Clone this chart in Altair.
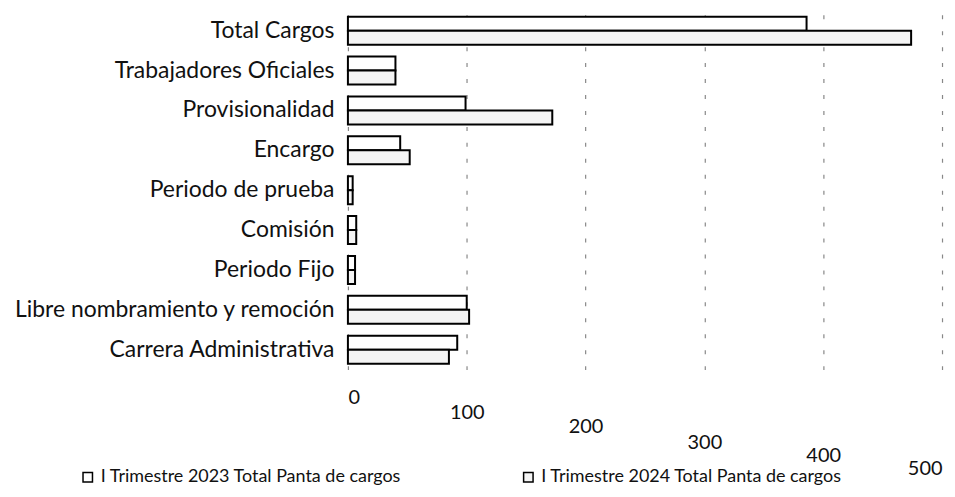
import altair as alt
import pandas as pd

categories = ["Total Cargos", "Trabajadores Oficiales", "Provisionalidad", "Encargo",
              "Periodo de prueba", "Comisión", "Periodo Fijo",
              "Libre nombramiento y remoción", "Carrera Administrativa"]
series = ["I Trimestre 2023 Total Panta de cargos", "I Trimestre 2024 Total Panta de cargos"]
values_2023 = [386, 40, 99, 44, 4, 7, 6, 100, 92]
values_2024 = [474, 40, 172, 52, 4, 7, 6, 102, 85]
x_ticks = [0, 100, 200, 300, 400, 500]
label_drop = [0, 15, 29, 45, 58, 71]

rows = []
for c, a, b in zip(categories, values_2023, values_2024):
    rows.append({"cat": c, "serie": series[0], "val": a})
    rows.append({"cat": c, "serie": series[1], "val": b})
df = pd.DataFrame(rows)

FONT = "Lato"

pad_cond = {
    "condition": [{"test": f"datum.value == {v}", "value": 18 + d} for v, d in zip(x_ticks, label_drop)],
    "value": 18,
}

chart = alt.Chart(df).mark_bar(stroke="black", strokeWidth=2).encode(
    y=alt.Y("cat:N", sort=categories, title=None,
            scale=alt.Scale(paddingInner=0.3, paddingOuter=0.15),
            axis=alt.Axis(domain=False, ticks=False, labelFontSize=23, labelFont=FONT,
                          labelColor="#111", labelPadding=14, labelLimit=400)),
    yOffset=alt.YOffset("serie:N", sort=series),
    x=alt.X("val:Q", title=None,
            scale=alt.Scale(domain=[0, 500], nice=False),
            axis=alt.Axis(values=x_ticks, domain=False, ticks=False, labelFontSize=20,
                          labelFont=FONT, labelColor="#111", labelPadding=pad_cond,
                          grid=True, gridDash=[4, 12], gridColor="#888", gridWidth=1.2)),
    color=alt.Color("serie:N", sort=series, title=None,
                    scale=alt.Scale(domain=series, range=["white", "#f4f4f4"]),
                    legend=alt.Legend(orient="none", legendX=-270, legendY=459,
                                      direction="horizontal",
                                      labelFont=FONT, labelFontSize=18, labelColor="#111",
                                      symbolType="square", symbolStrokeColor="black",
                                      symbolStrokeWidth=1.5, symbolSize=90,
                                      columnPadding=118, labelLimit=500)),
).properties(width=596, height=360, background="white",
             padding={"left": 5, "top": 2, "right": 5, "bottom": 5}
).configure_view(stroke=None)

chart.save("out.html", embed_options={"renderer": "svg", "actions": False})
